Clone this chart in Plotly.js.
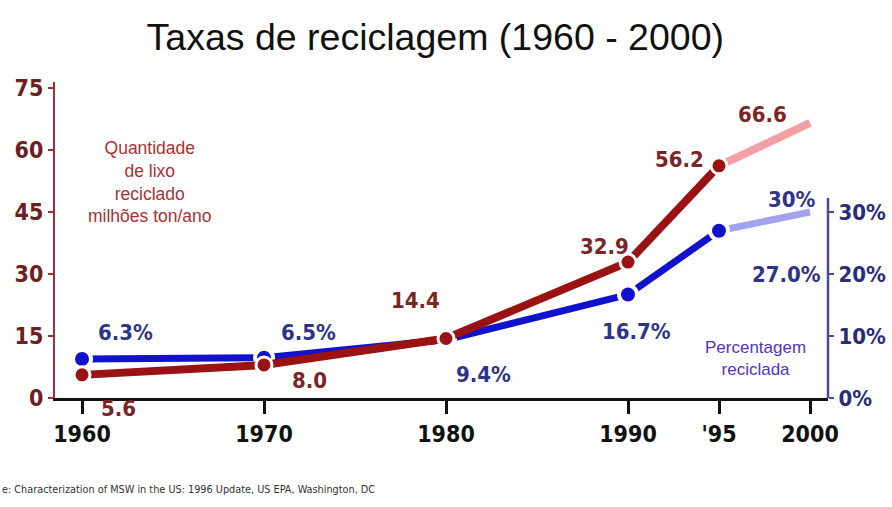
<!DOCTYPE html>
<html>
<head>
<meta charset="utf-8">
<script src="https://cdn.plot.ly/plotly-3.0.1.min.js"></script>
<style>html,body{margin:0;padding:0;background:#fff;}#chart{width:892px;height:507px;}</style>
</head>
<body>
<div id="chart"></div>
<script>
// ---- data ----
const years = [1960, 1970, 1980, 1990, 1995, 2000];
const yearTickText = ['1960', '1970', '1980', '1990', "'95", '2000'];
const amount = [5.6, 8.0, 14.4, 32.9, 56.2, 66.6];          // milhões ton/ano
const percent = [6.3, 6.5, 9.4, 16.7, 27.0, 30];            // %
const amountLabels = ['5.6', '8.0', '14.4', '32.9', '56.2', '66.6'];
const percentLabels = ['6.3%', '6.5%', '9.4%', '16.7%', '27.0%', '30%'];
const leftTicks = [0, 15, 30, 45, 60, 75];
const rightTicks = [0, 10, 20, 30];
const rightTickText = ['0%', '10%', '20%', '30%'];

// ---- styles ----
const RED = '#9a1212', RED_LIGHT = '#f2a0a6', RED_TXT = '#7a2626';
const BLUE = '#1212cc', BLUE_LIGHT = '#a2a2ee', BLUE_TXT = '#2e3488';
const NUMFONT = 'DejaVu Sans Condensed, Liberation Sans Narrow, sans-serif';
const TXTFONT = 'Liberation Sans, Arial, sans-serif';

// percent on 'y' (right axis, drawn below), amount on 'y2' (left axis, drawn above)
const nMain = 5; // 1960..1995 measured; 1995..2000 projected
const traces = [
  {x: years.slice(nMain - 1), y: percent.slice(nMain - 1), yaxis: 'y', mode: 'lines',
   line: {color: BLUE_LIGHT, width: 7}, hoverinfo: 'skip'},
  {x: years.slice(0, nMain), y: percent.slice(0, nMain), yaxis: 'y', mode: 'lines+markers',
   line: {color: BLUE, width: 7},
   marker: {color: BLUE, size: 18, line: {color: '#fff', width: 4}}},
  {x: years.slice(nMain - 1), y: amount.slice(nMain - 1), yaxis: 'y2', mode: 'lines',
   line: {color: RED_LIGHT, width: 8}, hoverinfo: 'skip'},
  {x: years.slice(0, nMain), y: amount.slice(0, nMain), yaxis: 'y2', mode: 'lines+markers',
   line: {color: RED, width: 8},
   marker: {color: RED, size: 16, line: {color: '#fff', width: 3}}}
];

// label offsets (pixels) relative to each data point
const amountOff = [[36, -34], [45, -16], [-31, 38], [-24, 16], [-40, 6], [-48, 8]];
const percentOff = [[43, 26], [44, 25], [37, -35], [8, -37], [67, -44], [-18, 13]];

const annotations = [];
years.forEach((yr, i) => {
  annotations.push({x: yr, y: amount[i], xref: 'x', yref: 'y2', text: amountLabels[i],
    showarrow: false, xshift: amountOff[i][0], yshift: amountOff[i][1],
    font: {family: NUMFONT, size: 22, color: RED_TXT, weight: 'bold'}});
  annotations.push({x: yr, y: percent[i], xref: 'x', yref: 'y', text: percentLabels[i],
    showarrow: false, xshift: percentOff[i][0], yshift: percentOff[i][1],
    font: {family: NUMFONT, size: 22, color: BLUE_TXT, weight: 'bold'}});
});
annotations.push({xref: 'paper', yref: 'paper', x: 0.123, y: 0.684, xanchor: 'center', yanchor: 'middle',
  text: 'Quantidade<br>de lixo<br>reciclado<br>milhões ton/ano', showarrow: false,
  font: {family: TXTFONT, size: 17.5, color: '#a83232'}});
annotations.push({xref: 'paper', yref: 'paper', x: 0.9056, y: 0.125, xanchor: 'center', yanchor: 'middle',
  text: 'Percentagem<br>reciclada', showarrow: false,
  font: {family: TXTFONT, size: 17, color: '#5232c4'}});
annotations.push({xref: 'paper', yref: 'paper', x: -0.0712, y: -0.291, xanchor: 'left', yanchor: 'middle',
  text: 'e: Characterization of MSW in the US: 1996 Update, US EPA, Washington, DC', showarrow: false,
  font: {family: 'DejaVu Sans Condensed, sans-serif', size: 10.8, color: '#333'}});

const layout = {
  width: 892, height: 507,
  margin: {l: 55, r: 64, t: 82, b: 109, pad: 0},
  paper_bgcolor: '#fff', plot_bgcolor: '#fff',
  showlegend: false,
  title: {text: 'Taxas de reciclagem (1960 - 2000)', xref: 'container', yref: 'container',
    x: 0.488, y: 0.927, xanchor: 'center', yanchor: 'middle',
    font: {family: TXTFONT, size: 37.5, color: '#111'}},
  xaxis: {range: [1958.516, 2000.989], tickmode: 'array', tickvals: years, ticktext: yearTickText,
    showgrid: false, zeroline: false, showline: true, linecolor: '#111', linewidth: 3,
    ticks: 'outside', ticklen: 13, tickwidth: 3, tickcolor: '#111',
    tickfont: {family: NUMFONT, size: 23, color: '#111', weight: 'bold'}},
  yaxis: {range: [0, 51], side: 'right', anchor: 'x', tickmode: 'array',
    tickvals: rightTicks, ticktext: rightTickText,
    showgrid: false, zeroline: false, showline: false,
    ticks: 'outside', ticklen: 5, tickwidth: 1.5, tickcolor: '#4a4a9a',
    tickfont: {family: NUMFONT, size: 22, color: '#2a2c78', weight: 'bold'}},
  yaxis2: {range: [0, 76.5], overlaying: 'y', side: 'left', anchor: 'x', tickmode: 'array', tickvals: leftTicks,
    showgrid: false, zeroline: false, showline: true, linecolor: '#a03030', linewidth: 2,
    ticks: 'outside', ticklen: 5, tickwidth: 1.5, tickcolor: '#a03030',
    tickfont: {family: NUMFONT, size: 23, color: '#6e2020', weight: 'bold'}},
  shapes: [{type: 'line', xref: 'paper', yref: 'y', x0: 1, x1: 1, y0: 0, y1: 32.3,
    line: {color: '#4a4a9a', width: 2.5}}],
  annotations: annotations
};

Plotly.newPlot('chart', traces, layout, {displayModeBar: false, staticPlot: true});
</script>
</body>
</html>
